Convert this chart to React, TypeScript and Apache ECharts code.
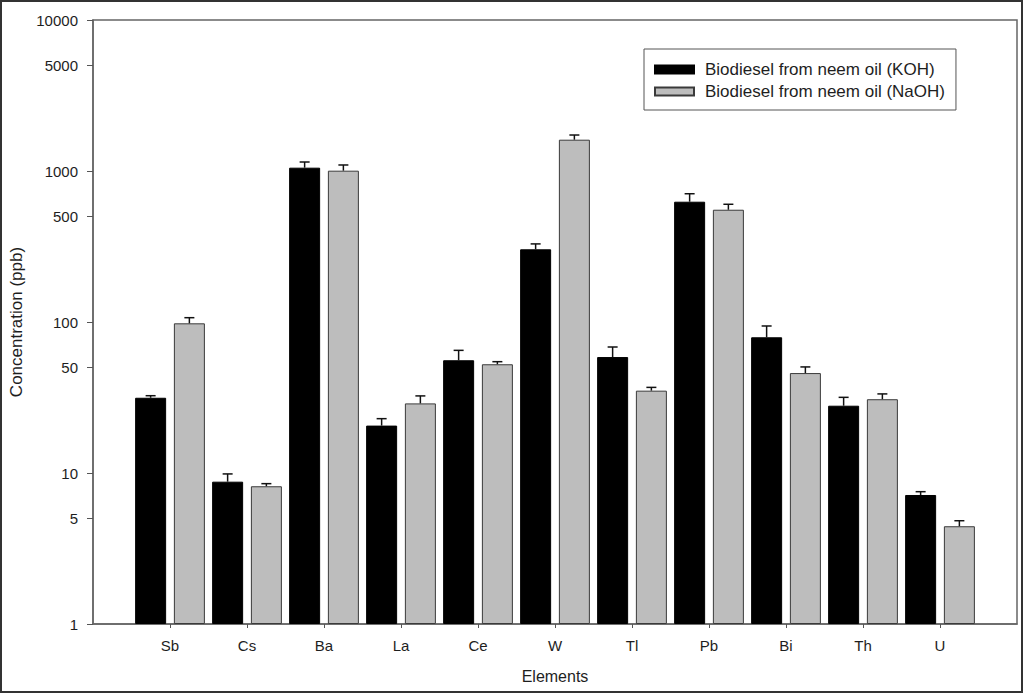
import React, { useEffect, useRef } from "react";
import * as echarts from "echarts";

const elements = ["Sb", "Cs", "Ba", "La", "Ce", "W", "Tl", "Pb", "Bi", "Th", "U"];
const kohValues = [31.5, 8.76, 1052, 20.6, 55.8, 303, 58.6, 626, 79.2, 27.9, 7.15];
const kohErrors = [1.0, 1.1, 95, 2.3, 9.1, 26, 9.7, 81, 14.9, 3.8, 0.37];
const naohValues = [98.0, 8.17, 1005, 28.9, 52.5, 1612, 35.1, 554, 45.9, 30.8, 4.44];
const naohErrors = [8.8, 0.33, 91, 3.5, 2.1, 119, 1.8, 48, 4.5, 2.6, 0.39];
const yTicks = [1, 5, 10, 50, 100, 500, 1000, 5000, 10000];
const kohName = "Biodiesel from neem oil (KOH)";
const naohName = "Biodiesel from neem oil (NaOH)";

const xPositions = elements.map((_, i) => i + 1);

export default function App() {
  const ref = useRef<HTMLDivElement>(null);

  useEffect(() => {
    const chart = echarts.init(ref.current as HTMLDivElement, null, { renderer: "svg" });
    const font = "'Liberation Sans', Arial, sans-serif";
    const textColor = "#1e1e1e";
    const lineColor = "#666";
    const barWidth = 31;
    const gapRatio = 0.25;
    const offset = (barWidth + barWidth * gapRatio) / 2;

    const errSeries = (name: string, values: number[], errors: number[], dx: number) => ({
      type: "custom",
      name,
      silent: true,
      z: 5,
      encode: { x: 0, y: 1 },
      data: values.map((v, i) => [xPositions[i], v, errors[i]]),
      renderItem: (params: any, api: any) => {
        const x = api.value(0);
        const v = api.value(1);
        const e = api.value(2);
        const p0 = api.coord([x, v]);
        const p1 = api.coord([x, v + e]);
        const cx = p0[0] + dx;
        return {
          type: "group",
          children: [
            {
              type: "line",
              shape: { x1: cx, y1: p0[1], x2: cx, y2: p1[1] },
              style: { stroke: "#111", lineWidth: 1.5 },
            },
            {
              type: "line",
              shape: { x1: cx - 5, y1: p1[1], x2: cx + 5, y2: p1[1] },
              style: { stroke: "#111", lineWidth: 1.5 },
            },
          ],
        };
      },
    });

    chart.setOption({
      animation: false,
      backgroundColor: "#fff",
      textStyle: { fontFamily: font },
      grid: {
        left: 89,
        right: 7,
        top: 20,
        bottom: 71,
        show: true,
        borderColor: lineColor,
        borderWidth: 1.5,
        backgroundColor: "transparent",
      },
      legend: {
        data: [{ name: kohName }, { name: naohName }],
        orient: "vertical",
        left: 644,
        top: 49,
        icon: "rect",
        itemWidth: 39,
        itemHeight: 8,
        itemGap: 5,
        borderColor: "#555",
        borderWidth: 1,
        borderRadius: 0,
        padding: [12, 11, 10, 10],
        textStyle: {
          fontFamily: font,
          fontSize: 17,
          lineHeight: 17,
          color: textColor,
          padding: [0, 0, 0, 6],
        },
      },
      xAxis: {
        type: "value",
        min: 0,
        max: 12,
        interval: 1,
        name: "Elements",
        nameLocation: "middle",
        nameGap: 44,
        nameTextStyle: { fontFamily: font, fontSize: 16, color: textColor },
        axisLine: { show: true, lineStyle: { color: lineColor, width: 1.5 } },
        axisTick: { show: true, customValues: xPositions, length: 4, lineStyle: { color: "#555" } },
        axisLabel: {
          customValues: xPositions,
          margin: 14,
          fontFamily: font,
          fontSize: 15,
          color: textColor,
          formatter: (v: number) => elements[Math.round(v) - 1] ?? "",
        },
        splitLine: { show: false },
      },
      yAxis: {
        type: "log",
        logBase: 10,
        min: 1,
        max: 10000,
        name: "Concentration (ppb)",
        nameLocation: "middle",
        nameGap: 68,
        nameRotate: 90,
        nameTextStyle: { fontFamily: font, fontSize: 17, color: textColor },
        axisLine: { show: true, lineStyle: { color: lineColor, width: 1.5 } },
        axisTick: { show: true, customValues: yTicks, length: 6, lineStyle: { color: "#555" } },
        axisLabel: {
          customValues: yTicks,
          margin: 15,
          fontFamily: font,
          fontSize: 15,
          color: textColor,
          formatter: (v: number) => String(Math.round(v)),
        },
        splitLine: { show: false },
      },
      graphic: [
        {
          type: "rect",
          silent: true,
          z: -10,
          shape: { x: 1, y: 1, width: 1021, height: 691 },
          style: { fill: "none", stroke: "#333", lineWidth: 2 },
        },
      ],
      series: [
        {
          type: "bar",
          name: kohName,
          barWidth,
          barGap: "25%",
          data: kohValues.map((v, i) => [xPositions[i], v]),
          itemStyle: { color: "#000", borderColor: "#000", borderWidth: 1 },
        },
        {
          type: "bar",
          name: naohName,
          barWidth,
          barGap: "25%",
          data: naohValues.map((v, i) => [xPositions[i], v]),
          itemStyle: { color: "#bdbdbd", borderColor: "#3a3a3a", borderWidth: 1 },
        },
        errSeries("err-koh", kohValues, kohErrors, -offset),
        errSeries("err-naoh", naohValues, naohErrors, offset),
      ],
    });

    return () => chart.dispose();
  }, []);

  return (
    <div
      ref={ref}
      style={{ position: "fixed", left: 0, top: 0, width: 1024, height: 695, background: "#fff" }}
    />
  );
}
